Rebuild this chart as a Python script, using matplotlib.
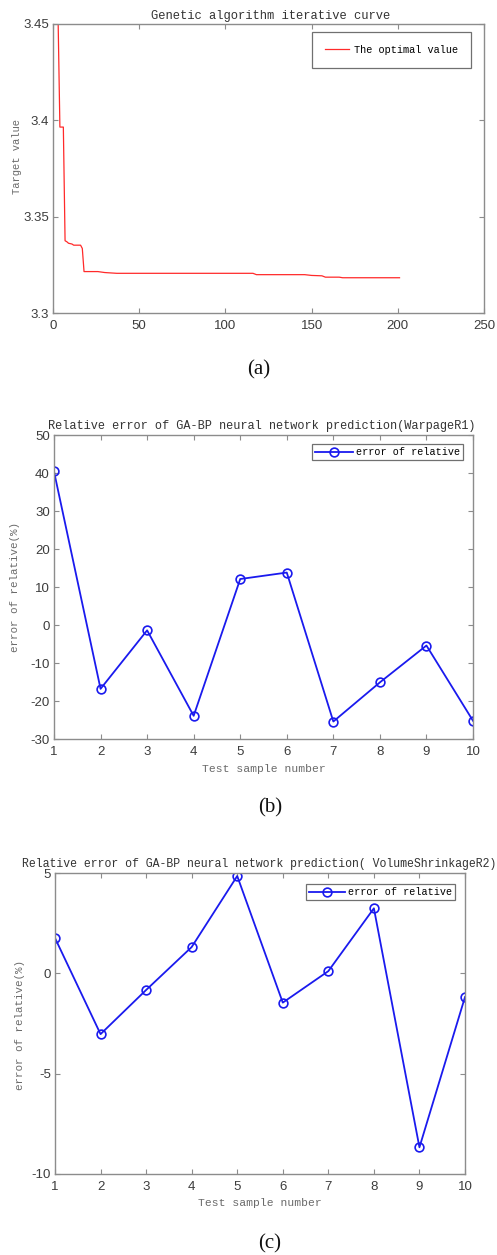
import matplotlib
matplotlib.use('Agg')
import matplotlib.pyplot as plt

plt.rcParams['axes.unicode_minus'] = False

# ---------------- data ----------------
# (a) GA iterative curve: vertices of the best-value curve
gen_a = [1, 3, 4, 6, 7, 8, 9, 11, 12, 16, 17, 18, 26, 30, 37, 116, 118, 146, 150, 156, 158, 166, 168, 201]
val_a = [3.45, 3.45, 3.3965, 3.3965, 3.3375, 3.337, 3.3362, 3.3358, 3.3352, 3.3352, 3.3335, 3.3215,
         3.3215, 3.321, 3.3206, 3.3206, 3.3199, 3.3199, 3.3195, 3.3193, 3.3186, 3.3186, 3.3183, 3.3183]
xticks_a = [0, 50, 100, 150, 200, 250]
yticks_a = [3.3, 3.35, 3.4, 3.45]
ytick_labels_a = ['3.3', '3.35', '3.4', '3.45']

# (b), (c) relative errors
sample_no = [1, 2, 3, 4, 5, 6, 7, 8, 9, 10]
err_b = [40.4, -16.8, -1.4, -23.9, 12.1, 13.8, -25.4, -15.1, -5.4, -25.2]
err_c = [1.76, -3.03, -0.83, 1.31, 4.85, -1.46, 0.11, 3.24, -8.67, -1.18]
yticks_b = [-30, -20, -10, 0, 10, 20, 30, 40, 50]
yticks_c = [-10, -5, 0, 5]

title_a = 'Genetic algorithm iterative curve'
title_b = 'Relative error of GA-BP neural network prediction(WarpageR1)'
title_c = 'Relative error of GA-BP neural network prediction( VolumeShrinkageR2)'
legend_a = 'The optimal value'
legend_bc = 'error of relative'
ylabel_a = 'Target value'
ylabel_bc = 'error of relative(%)'
xlabel_bc = 'Test sample number'
captions = ['(a)', '(b)', '(c)']

# ---------------- layout ----------------
W, H = 497, 1255
fig = plt.figure(figsize=(W / 100, H / 100), dpi=100)
fig.patch.set_facecolor('white')

MONO = ['Liberation Mono', 'DejaVu Sans Mono']
SANS = ['Liberation Sans', 'DejaVu Sans']
SERIF = ['Liberation Serif', 'DejaVu Serif']
SPINE = '#8c8c8c'
TICKTXT = '#3c3c3c'
LABTXT = '#6a6a6a'


def add_ax(l, t, r, b):
    return fig.add_axes([l / W, 1 - b / H, (r - l) / W, (b - t) / H])


def style(ax):
    for s in ax.spines.values():
        s.set_color(SPINE)
        s.set_linewidth(1.0)
    ax.tick_params(direction='in', length=3.5, width=0.8, color=SPINE,
                   top=True, right=True, labelsize=9.5, labelcolor=TICKTXT)
    ax.tick_params(axis='x', pad=5)
    ax.tick_params(axis='y', pad=3)
    for lab in ax.get_xticklabels() + ax.get_yticklabels():
        lab.set_family(SANS)


def ftext(x, y, s, **kw):
    fig.text(x / W, 1 - y / H, s, **kw)


# ---- (a) ----
axa = add_ax(53, 24, 484, 313)
axa.plot(gen_a, val_a, color='#ff2a2a', lw=0.9, label=legend_a)
axa.set_xlim(0, 250)
axa.set_ylim(3.3, 3.45)
axa.set_xticks(xticks_a)
axa.set_yticks(yticks_a)
axa.set_yticklabels(ytick_labels_a)
style(axa)
leg = axa.legend(loc='upper right', bbox_to_anchor=(0.97, 0.972), prop={'family': MONO, 'size': 7.4},
                 frameon=True, fancybox=False, framealpha=1, edgecolor='#707070',
                 handlelength=2.4, handletextpad=0.45, borderpad=1.25, borderaxespad=0)
leg.get_frame().set_linewidth(0.9)
ftext(271, 16, title_a, ha='center', va='center', family=MONO, size=8.7, color='#333333')
ftext(17, 156, ylabel_a, ha='center', va='center', rotation=90, family=MONO, size=7.6, color=LABTXT)
ftext(259, 370, captions[0], ha='center', va='center', family=SERIF, size=15, color='#111111')

# ---- (b) ----
axb = add_ax(54, 435, 473, 739)
axb.plot(sample_no, err_b, color='#1a1aee', lw=1.3, marker='o', markersize=6.3,
         markerfacecolor='none', markeredgewidth=1.2, label=legend_bc)
axb.set_xlim(1, 10)
axb.set_ylim(-30, 50)
axb.set_xticks(sample_no)
axb.set_yticks(yticks_b)
style(axb)
leg = axb.legend(loc='upper right', bbox_to_anchor=(0.976, 0.970), prop={'family': MONO, 'size': 7.3},
                 frameon=True, fancybox=False, framealpha=1, edgecolor='#707070',
                 handlelength=3.7, handletextpad=0.3, borderpad=0.3, borderaxespad=0)
leg.get_frame().set_linewidth(0.9)
ftext(262, 425.5, title_b, ha='center', va='center', family=MONO, size=8.6, color='#333333')
ftext(15, 587, ylabel_bc, ha='center', va='center', rotation=90, family=MONO, size=7.8, color=LABTXT)
ftext(264, 769, xlabel_bc, ha='center', va='center', family=MONO, size=8.2, color=LABTXT)
ftext(270, 808, captions[1], ha='center', va='center', family=SERIF, size=15, color='#111111')

# ---- (c) ----
axc = add_ax(55, 873, 465, 1174)
axc.plot(sample_no, err_c, color='#1a1aee', lw=1.3, marker='o', markersize=6.3,
         markerfacecolor='none', markeredgewidth=1.2, label=legend_bc)
axc.set_xlim(1, 10)
axc.set_ylim(-10, 5)
axc.set_xticks(sample_no)
axc.set_yticks(yticks_c)
style(axc)
leg = axc.legend(loc='upper right', bbox_to_anchor=(0.976, 0.963), prop={'family': MONO, 'size': 7.3},
                 frameon=True, fancybox=False, framealpha=1, edgecolor='#707070',
                 handlelength=3.5, handletextpad=0.3, borderpad=0.3, borderaxespad=0)
leg.get_frame().set_linewidth(0.9)
ftext(259, 864, title_c, ha='center', va='center', family=MONO, size=8.3, color='#333333')
ftext(20, 1025, ylabel_bc, ha='center', va='center', rotation=90, family=MONO, size=7.8, color=LABTXT)
ftext(260, 1203, xlabel_bc, ha='center', va='center', family=MONO, size=8.2, color=LABTXT)
ftext(270, 1244, captions[2], ha='center', va='center', family=SERIF, size=15, color='#111111')

fig.savefig('out.png', dpi=100, facecolor='white')
